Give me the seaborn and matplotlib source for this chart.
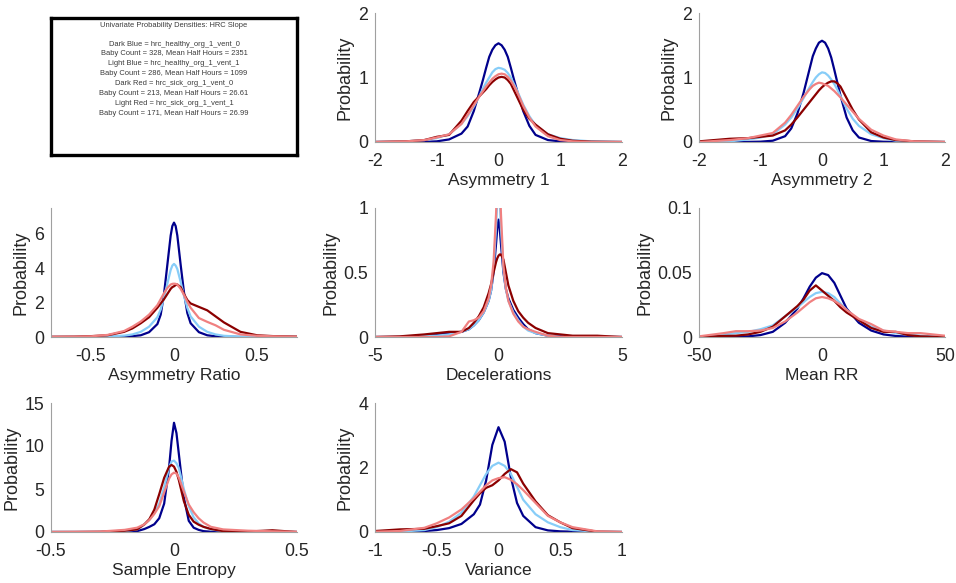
import numpy as np
import pandas as pd
import matplotlib
matplotlib.use("Agg")
import matplotlib.pyplot as plt
import seaborn as sns

# ---------------------------------------------------------------------------
# Group names and colours
# ---------------------------------------------------------------------------
groups = ["Dark Blue", "Light Blue", "Dark Red", "Light Red"]
group_colors = ["#00008C", "#87CDF8", "#8B0000", "#F08080"]

info_title = "Univariate Probability Densities: HRC Slope"
info_lines = [
    "Dark Blue = hrc_healthy_org_1_vent_0",
    "Baby Count = 328, Mean Half Hours = 2351",
    "Light Blue = hrc_healthy_org_1_vent_1",
    "Baby Count = 286, Mean Half Hours = 1099",
    "Dark Red = hrc_sick_org_1_vent_0",
    "Baby Count = 213, Mean Half Hours = 26.61",
    "Light Red = hrc_sick_org_1_vent_1",
    "Baby Count = 171, Mean Half Hours = 26.99",
]

# ---------------------------------------------------------------------------
# Density estimates per feature (x grid + one y array per group)
# ---------------------------------------------------------------------------
asym1_x = [-2, -1.5, -1.2, -1.0, -0.8, -0.6, -0.5, -0.4, -0.3, -0.25, -0.2, -0.15, -0.1, -0.05, 0,
           0.05, 0.1, 0.15, 0.2, 0.25, 0.3, 0.4, 0.5, 0.6, 0.8, 1.0, 1.2, 1.5, 2]
asym1_dark_blue = [0, 0, 0.002, 0.01, 0.04, 0.13, 0.24, 0.48, 0.80, 0.97, 1.15, 1.32, 1.43, 1.50, 1.53,
                   1.50, 1.43, 1.32, 1.15, 0.97, 0.80, 0.48, 0.25, 0.11, 0.03, 0.01, 0.002, 0, 0]
asym1_light_blue = [0, 0.01, 0.03, 0.06, 0.12, 0.28, 0.40, 0.55, 0.73, 0.83, 0.92, 1.0, 1.08, 1.13, 1.15,
                    1.14, 1.12, 1.07, 1.0, 0.90, 0.80, 0.58, 0.40, 0.26, 0.12, 0.06, 0.03, 0.01, 0]
asym1_dark_red = [0, 0.01, 0.03, 0.08, 0.11, 0.33, 0.48, 0.62, 0.72, 0.77, 0.82, 0.88, 0.93, 0.97, 1.0,
                  1.01, 1.0, 0.96, 0.90, 0.80, 0.70, 0.50, 0.36, 0.27, 0.12, 0.05, 0.02, 0.005, 0]
asym1_light_red = [0, 0.01, 0.03, 0.07, 0.12, 0.28, 0.42, 0.57, 0.72, 0.79, 0.86, 0.92, 0.98, 1.02, 1.05,
                   1.06, 1.05, 1.01, 0.95, 0.87, 0.78, 0.56, 0.38, 0.24, 0.09, 0.03, 0.01, 0.0, 0]

asym2_x = [-2, -1.5, -1.2, -1.0, -0.8, -0.6, -0.5, -0.4, -0.3, -0.25, -0.2, -0.15, -0.1, -0.05, 0,
           0.05, 0.1, 0.15, 0.2, 0.25, 0.3, 0.4, 0.5, 0.6, 0.8, 1.0, 1.2, 1.5, 2]
asym2_dark_blue = [0, 0, 0.002, 0.005, 0.02, 0.09, 0.21, 0.44, 0.76, 0.95, 1.14, 1.33, 1.45, 1.54, 1.57,
                   1.54, 1.45, 1.31, 1.12, 0.92, 0.72, 0.38, 0.18, 0.07, 0.015, 0.004, 0.001, 0, 0]
asym2_light_blue = [0, 0.01, 0.04, 0.07, 0.12, 0.27, 0.38, 0.52, 0.68, 0.77, 0.85, 0.93, 1.0, 1.05, 1.08,
                    1.07, 1.03, 0.97, 0.90, 0.81, 0.71, 0.52, 0.36, 0.25, 0.12, 0.06, 0.02, 0.005, 0]
asym2_dark_red = [0.01, 0.05, 0.06, 0.08, 0.10, 0.18, 0.27, 0.38, 0.50, 0.56, 0.62, 0.68, 0.74, 0.80, 0.85,
                  0.89, 0.92, 0.94, 0.94, 0.91, 0.86, 0.68, 0.50, 0.35, 0.15, 0.07, 0.03, 0.01, 0]
asym2_light_red = [0, 0.03, 0.06, 0.10, 0.14, 0.30, 0.42, 0.56, 0.70, 0.76, 0.82, 0.87, 0.90, 0.92, 0.91,
                   0.89, 0.87, 0.83, 0.79, 0.74, 0.69, 0.58, 0.47, 0.36, 0.19, 0.10, 0.04, 0.01, 0]

ratio_x = [-0.75, -0.6, -0.5, -0.4, -0.3, -0.25, -0.2, -0.15, -0.1, -0.08, -0.06, -0.04, -0.02, -0.01,
           0, 0.01, 0.02, 0.04, 0.06, 0.08, 0.1, 0.15, 0.2, 0.25, 0.3, 0.4, 0.5, 0.6, 0.75]
ratio_dark_blue = [0, 0, 0, 0, 0.02, 0.05, 0.1, 0.28, 0.75, 1.3, 2.5, 4.2, 5.9, 6.45,
                   6.65, 6.45, 5.9, 4.2, 2.6, 1.4, 0.8, 0.28, 0.1, 0.04, 0.02, 0, 0, 0, 0]
ratio_light_blue = [0, 0, 0.01, 0.03, 0.08, 0.15, 0.3, 0.6, 1.15, 1.6, 2.3, 3.1, 3.9, 4.15,
                    4.25, 4.15, 3.95, 3.2, 2.4, 1.7, 1.2, 0.6, 0.3, 0.15, 0.07, 0.02, 0.01, 0, 0]
ratio_dark_red = [0.01, 0.02, 0.05, 0.1, 0.3, 0.5, 0.8, 1.15, 1.7, 1.95, 2.2, 2.5, 2.8, 2.9,
                  2.95, 3.02, 3.05, 2.9, 2.5, 2.15, 1.95, 1.75, 1.55, 1.2, 0.85, 0.3, 0.1, 0.05, 0.02]
ratio_light_red = [0.01, 0.02, 0.04, 0.12, 0.35, 0.6, 0.9, 1.3, 1.85, 2.2, 2.55, 2.85, 3.05, 3.09,
                   3.1, 3.09, 3.05, 2.8, 2.45, 2.05, 1.7, 1.1, 0.88, 0.68, 0.42, 0.15, 0.07, 0.04, 0.01]

decel_x = [-5, -4, -3, -2.5, -2, -1.5, -1.2, -1.0, -0.8, -0.6, -0.4, -0.3, -0.2, -0.1, -0.05, 0,
           0.05, 0.1, 0.2, 0.3, 0.4, 0.6, 0.8, 1.0, 1.2, 1.5, 2, 2.5, 3, 4, 5]
decel_dark_blue = [0, 0, 0.01, 0.02, 0.03, 0.04, 0.06, 0.09, 0.13, 0.19, 0.28, 0.36, 0.5, 0.72, 0.84, 0.91,
                   0.84, 0.72, 0.5, 0.37, 0.3, 0.21, 0.15, 0.1, 0.06, 0.03, 0.01, 0.005, 0, 0, 0]
decel_light_blue = [0, 0, 0.01, 0.01, 0.02, 0.04, 0.06, 0.09, 0.13, 0.19, 0.28, 0.36, 0.52, 0.85, 1.05, 1.3,
                    1.05, 0.85, 0.52, 0.37, 0.28, 0.19, 0.13, 0.08, 0.05, 0.03, 0.01, 0, 0, 0, 0]
decel_dark_red = [0, 0.005, 0.02, 0.03, 0.04, 0.04, 0.07, 0.11, 0.16, 0.23, 0.34, 0.41, 0.5, 0.58, 0.61, 0.63,
                  0.64, 0.64, 0.6, 0.5, 0.4, 0.28, 0.2, 0.15, 0.11, 0.07, 0.03, 0.02, 0.01, 0.01, 0]
decel_light_red = [0, 0, 0, 0, 0.005, 0.04, 0.12, 0.13, 0.15, 0.2, 0.3, 0.4, 0.58, 0.95, 1.2, 1.5,
                   1.2, 0.95, 0.55, 0.38, 0.28, 0.18, 0.12, 0.08, 0.06, 0.04, 0.01, 0, 0, 0, 0]

rr_x = [-50, -40, -35, -30, -25, -20, -15, -10, -7.5, -5, -2.5, 0,
        2.5, 5, 7.5, 10, 15, 20, 25, 30, 35, 40, 50]
rr_dark_blue = [0, 0, 0.0002, 0.0005, 0.0015, 0.004, 0.011, 0.022, 0.030, 0.039, 0.046, 0.0495,
                0.048, 0.042, 0.032, 0.022, 0.011, 0.005, 0.002, 0.0008, 0.0003, 0, 0]
rr_light_blue = [0, 0.002, 0.003, 0.004, 0.006, 0.009, 0.016, 0.023, 0.027, 0.031, 0.034, 0.035,
                 0.034, 0.031, 0.026, 0.021, 0.013, 0.008, 0.005, 0.003, 0.002, 0.001, 0]
rr_dark_red = [0, 0.0008, 0.001, 0.002, 0.004, 0.008, 0.016, 0.024, 0.029, 0.036, 0.040, 0.036,
               0.032, 0.028, 0.023, 0.019, 0.013, 0.007, 0.004, 0.004, 0.0015, 0.0005, 0]
rr_light_red = [0.0005, 0.003, 0.0045, 0.0045, 0.005, 0.007, 0.012, 0.019, 0.023, 0.027, 0.030, 0.031,
                0.030, 0.028, 0.025, 0.021, 0.014, 0.010, 0.005, 0.004, 0.003, 0.003, 0.001]

entropy_x = [-0.5, -0.4, -0.3, -0.2, -0.15, -0.12, -0.1, -0.08, -0.06, -0.04, -0.02, -0.01, 0,
             0.01, 0.02, 0.04, 0.06, 0.08, 0.1, 0.12, 0.15, 0.2, 0.3, 0.4, 0.5]
entropy_dark_blue = [0, 0, 0, 0.02, 0.1, 0.35, 0.6, 0.9, 1.6, 3.3, 7.5, 10.6, 12.7,
                     11.5, 9.0, 4.0, 1.3, 0.5, 0.25, 0.1, 0.03, 0, 0, 0, 0]
entropy_light_blue = [0, 0, 0.02, 0.1, 0.3, 0.9, 1.4, 2.2, 3.3, 5.2, 7.5, 8.2, 8.3,
                      8.0, 7.4, 5.0, 3.0, 1.7, 1.0, 0.6, 0.3, 0.1, 0.02, 0, 0]
entropy_dark_red = [0, 0, 0.02, 0.15, 0.3, 0.9, 1.5, 2.6, 4.4, 6.3, 7.6, 7.8, 7.6,
                    7.0, 6.0, 3.6, 2.0, 1.2, 0.85, 0.6, 0.35, 0.1, 0.05, 0.2, 0]
entropy_light_red = [0, 0.02, 0.05, 0.25, 0.5, 0.9, 1.4, 2.1, 3.0, 4.6, 6.2, 6.7, 6.9,
                     6.8, 6.3, 4.7, 3.2, 2.3, 1.6, 1.1, 0.6, 0.3, 0.15, 0.08, 0.02]

var_x = [-1, -0.8, -0.6, -0.5, -0.4, -0.3, -0.2, -0.15, -0.1, -0.05, 0,
         0.05, 0.1, 0.15, 0.2, 0.3, 0.4, 0.5, 0.6, 0.8, 1]
var_dark_blue = [0, 0.01, 0.03, 0.06, 0.12, 0.25, 0.55, 0.85, 1.6, 2.7, 3.25,
                 2.8, 1.7, 0.9, 0.5, 0.15, 0.05, 0.02, 0.01, 0, 0]
var_light_blue = [0, 0.01, 0.06, 0.15, 0.32, 0.6, 1.1, 1.45, 1.8, 2.05, 2.15,
                  2.05, 1.8, 1.4, 1.0, 0.55, 0.3, 0.15, 0.06, 0.01, 0]
var_dark_red = [0.03, 0.08, 0.1, 0.18, 0.27, 0.5, 0.98, 1.2, 1.37, 1.45, 1.6,
                1.8, 1.95, 1.85, 1.5, 0.95, 0.52, 0.3, 0.12, 0.01, 0]
var_light_red = [0.01, 0.03, 0.13, 0.27, 0.45, 0.7, 1.05, 1.25, 1.45, 1.6, 1.67,
                 1.7, 1.62, 1.48, 1.3, 0.9, 0.5, 0.3, 0.15, 0.02, 0]

# feature label, x grid, series, xlim, xticks, ylim, yticks
panels = [
    ("Asymmetry 1", asym1_x, [asym1_dark_blue, asym1_light_blue, asym1_dark_red, asym1_light_red],
     (-2, 2), [-2, -1, 0, 1, 2], (0, 2), [0, 1, 2]),
    ("Asymmetry 2", asym2_x, [asym2_dark_blue, asym2_light_blue, asym2_dark_red, asym2_light_red],
     (-2, 2), [-2, -1, 0, 1, 2], (0, 2), [0, 1, 2]),
    ("Asymmetry Ratio", ratio_x, [ratio_dark_blue, ratio_light_blue, ratio_dark_red, ratio_light_red],
     (-0.74, 0.74), [-0.5, 0, 0.5], (0, 7.5), [0, 2, 4, 6]),
    ("Decelerations", decel_x, [decel_dark_blue, decel_light_blue, decel_dark_red, decel_light_red],
     (-5, 5), [-5, 0, 5], (0, 1), [0, 0.5, 1]),
    ("Mean RR", rr_x, [rr_dark_blue, rr_light_blue, rr_dark_red, rr_light_red],
     (-50, 50), [-50, 0, 50], (0, 0.1), [0, 0.05, 0.1]),
    ("Sample Entropy", entropy_x, [entropy_dark_blue, entropy_light_blue, entropy_dark_red, entropy_light_red],
     (-0.5, 0.5), [-0.5, 0, 0.5], (0, 15), [0, 5, 10, 15]),
    ("Variance", var_x, [var_dark_blue, var_light_blue, var_dark_red, var_light_red],
     (-1, 1), [-1, -0.5, 0, 0.5, 1], (0, 4), [0, 2, 4]),
]

# ---------------------------------------------------------------------------
# Style
# ---------------------------------------------------------------------------
sns.set_style("white")
plt.rcParams["font.family"] = ["Liberation Sans", "DejaVu Sans"]
plt.rcParams["axes.unicode_minus"] = False

W, H = 956, 583
fig = plt.figure(figsize=(W / 100, H / 100), dpi=100)
fig.patch.set_facecolor("white")


def px_axes(left, top, right, bottom):
    return fig.add_axes([left / W, 1 - bottom / H, (right - left) / W, (bottom - top) / H])


# grid cell boxes in pixels: (left, top, right, bottom)
col_lr = [(51, 297), (375, 622), (699, 945)]
row_tb = [(13, 142), (208, 337), (403, 532)]
slots = [(0, 1), (0, 2), (1, 0), (1, 1), (1, 2), (2, 0), (2, 1)]

# information panel
info_ax = px_axes(51, 18, 297, 155)
info_ax.set_xticks([])
info_ax.set_yticks([])
info_ax.set_xlim(0, 1)
info_ax.set_ylim(0, 1)
for s in info_ax.spines.values():
    s.set_visible(True)
    s.set_color("black")
    s.set_linewidth(2.4)
info_ax.text(0.5, 0.945, info_title, ha="center", va="center", fontsize=5.4, color="#3a3a3a")
for i, line in enumerate(info_lines):
    info_ax.text(0.5, 0.81 - i * 0.0725, line, ha="center", va="center",
                 fontsize=5.4, color="#3a3a3a")


def fmt(v):
    return f"{v:g}"


for (label, xs, series, xlim, xticks, ylim, yticks), (r, c) in zip(panels, slots):
    left, right = col_lr[c]
    top, bottom = row_tb[r]
    ax = px_axes(left, top, right, bottom)

    frame = pd.DataFrame({
        "x": np.tile(xs, len(groups)),
        "y": np.concatenate(series),
        "group": np.repeat(groups, len(xs)),
    })
    sns.lineplot(data=frame, x="x", y="y", hue="group", hue_order=groups,
                 palette=group_colors, estimator=None, sort=True,
                 linewidth=1.6, legend=False, ax=ax)

    ax.set_xlim(*xlim)
    ax.set_ylim(*ylim)
    ax.set_xticks(xticks)
    ax.set_yticks(yticks)
    ax.set_xticklabels([fmt(v) for v in xticks])
    ax.set_yticklabels([fmt(v) for v in yticks])
    ax.tick_params(axis="both", direction="in", length=3, width=0.6,
                   color="#909090", labelsize=12.8, labelcolor="#262626")
    ax.tick_params(axis="x", pad=8)
    ax.tick_params(axis="y", pad=5)
    for side in ("top", "right"):
        ax.spines[side].set_visible(False)
    for side in ("left", "bottom"):
        ax.spines[side].set_color("#a0a0a0")
        ax.spines[side].set_linewidth(0.8)
    ax.set_xlabel(label, fontsize=12.5, color="#262626", labelpad=2)
    ax.set_ylabel("Probability", fontsize=13, color="#262626", labelpad=3)

fig.savefig("out.png", dpi=100, facecolor="white")
